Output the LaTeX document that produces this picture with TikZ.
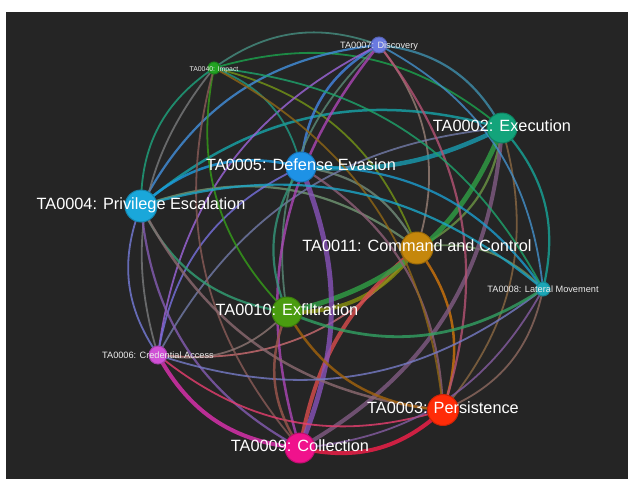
\documentclass[tikz,border=0pt]{standalone}
\usepackage{fontspec}
\setmainfont{Liberation Sans}
\definecolor{cDI}{HTML}{6A7AE0}
\definecolor{cIM}{HTML}{22A322}
\definecolor{cEX}{HTML}{13A47B}
\definecolor{cDE}{HTML}{1E92E6}
\definecolor{cPE}{HTML}{1AA7DA}
\definecolor{cCC}{HTML}{C5870C}
\definecolor{cLM}{HTML}{1BA6B6}
\definecolor{cXF}{HTML}{4A9C10}
\definecolor{cCA}{HTML}{D050D6}
\definecolor{cPR}{HTML}{FF2C08}
\definecolor{cCO}{HTML}{F0128C}
\definecolor{bgdark}{HTML}{252525}
\begin{document}
\begin{tikzpicture}[x=1pt,y=-1pt,
  lnk/.style={draw opacity=0.8, line cap=round},
  dot/.style={circle, inner sep=0pt, line width=1pt},
  big/.style={text=white, inner sep=0pt, text depth=0pt, text height=0.716em, font=\fontsize{16.3}{18}\selectfont},
  small/.style={text=white!92!black, inner sep=0pt, text depth=0pt, text height=0.716em, font=\fontsize{9.2}{11}\selectfont},
  tiny/.style={text=white!92!black, inner sep=0pt, text depth=0pt, text height=0.716em, font=\fontsize{6.9}{8}\selectfont}]
\useasboundingbox (0,0) rectangle (628,479);
\fill[white] (0,0) rectangle (628,479);
\fill[bgdark] (6,12) rectangle (628,479);
% node coordinates
\coordinate (di) at (379,45);
\coordinate (im) at (214,68);
\coordinate (ex) at (502,128);
\coordinate (de) at (301,167);
\coordinate (pe) at (141,206);
\coordinate (cc) at (417,248);
\coordinate (lm) at (543,289);
\coordinate (xf) at (287,312);
\coordinate (ca) at (158,355);
\coordinate (pr) at (443,410);
\coordinate (co) at (300,448);
% edges
\draw[lnk, line width=2.2pt, draw=cEX!50!cCC] (ex) to[bend left=28] (cc);
\draw[lnk, line width=1.8pt, draw=cDI!50!cCC] (di) to[bend left=28] (cc);
\draw[lnk, line width=2.2pt, draw=cDE!50!cCC] (de) to[bend left=28] (cc);
\draw[lnk, line width=1.8pt, draw=cIM!50!cCC] (im) to[bend left=28] (cc);
\draw[lnk, line width=2.2pt, draw=cPE!50!cCC] (pe) to[bend left=28] (cc);
\draw[lnk, line width=1.8pt, draw=cCC!50!cCA] (cc) to[bend left=28] (ca);
\draw[lnk, line width=4pt, draw=cCC!50!cXF] (cc) to[bend left=28] (xf);
\draw[lnk, line width=4pt, draw=cCC!50!cCO] (co) to[bend left=20] (cc);
\draw[lnk, line width=2.5pt, draw=cCC!80!cPR] (cc) to[bend left=28] (pr);
\draw[lnk, line width=1.8pt, draw=cCC!50!cLM] (cc) to[bend left=28] (lm);
\draw[lnk, line width=2.2pt, draw=cDI!50!cEX] (di) to[bend left=28] (ex);
\draw[lnk, line width=4.5pt, draw=cDE!50!cEX] (ex) to[bend left=15] (de);
\draw[lnk, line width=1.8pt, draw=cIM!50!cEX] (im) to[bend left=28] (ex);
\draw[lnk, line width=2.5pt, draw=cPE!50!cEX] (pe) to[bend left=28] (ex);
\draw[lnk, line width=1.8pt, draw=cCA!50!cEX] (ca) to[bend left=28] (ex);
\draw[lnk, line width=5pt, draw=cEX!50!cXF] (ex) to[bend left=28] (xf);
\draw[lnk, line width=4pt, draw=cEX!50!cCO] (ex) to[bend left=28] (co);
\draw[lnk, line width=1.8pt, draw=cEX!50!cPR] (ex) to[bend left=28] (pr);
\draw[lnk, line width=2.2pt, draw=cEX!50!cLM] (ex) to[bend left=28] (lm);
\draw[lnk, line width=2.5pt, draw=cDE!50!cDI] (de) to[bend left=28] (di);
\draw[lnk, line width=1.8pt, draw=cIM!50!cDI] (im) to[bend left=28] (di);
\draw[lnk, line width=2.2pt, draw=cPE!50!cDI] (pe) to[bend left=28] (di);
\draw[lnk, line width=1.8pt, draw=cCA!50!cDI] (ca) to[bend left=28] (di);
\draw[lnk, line width=1.8pt, draw=cXF!50!cDI] (xf) to[bend left=28] (di);
\draw[lnk, line width=2.5pt, draw=cCO!50!cDI] (co) to[bend left=28] (di);
\draw[lnk, line width=2.2pt, draw=cDI!50!cPR] (di) to[bend left=28] (pr);
\draw[lnk, line width=1.8pt, draw=cDI!50!cLM] (di) to[bend left=28] (lm);
\draw[lnk, line width=1.8pt, draw=cIM!50!cDE] (im) to[bend left=28] (de);
\draw[lnk, line width=2.5pt, draw=cPE!50!cDE] (pe) to[bend left=28] (de);
\draw[lnk, line width=1.8pt, draw=cCA!50!cDE] (ca) to[bend left=28] (de);
\draw[lnk, line width=2.2pt, draw=cXF!50!cDE] (xf) to[bend left=28] (de);
\draw[lnk, line width=5pt, draw=cCO!50!cDE] (de) to[bend left=22] (co);
\draw[lnk, line width=2.2pt, draw=cDE!50!cPR] (de) to[bend left=28] (pr);
\draw[lnk, line width=2.2pt, draw=cDE!50!cLM] (de) to[bend left=28] (lm);
\draw[lnk, line width=1.8pt, draw=cPE!50!cIM] (pe) to[bend left=28] (im);
\draw[lnk, line width=1.8pt, draw=cCA!50!cIM] (ca) to[bend left=28] (im);
\draw[lnk, line width=1.8pt, draw=cXF!50!cIM] (xf) to[bend left=28] (im);
\draw[lnk, line width=1.8pt, draw=cCO!50!cIM] (co) to[bend left=28] (im);
\draw[lnk, line width=1.8pt, draw=cIM!50!cPR] (im) to[bend left=28] (pr);
\draw[lnk, line width=1.8pt, draw=cIM!50!cLM] (im) to[bend left=28] (lm);
\draw[lnk, line width=1.8pt, draw=cCA!50!cPE] (ca) to[bend left=28] (pe);
\draw[lnk, line width=2.2pt, draw=cXF!50!cPE] (xf) to[bend left=28] (pe);
\draw[lnk, line width=2.2pt, draw=cCO!50!cPE] (co) to[bend left=28] (pe);
\draw[lnk, line width=2.5pt, draw=cPR!50!cPE] (pr) to[bend left=28] (pe);
\draw[lnk, line width=2.2pt, draw=cPE!50!cLM] (pe) to[bend left=28] (lm);
\draw[lnk, line width=1.8pt, draw=cXF!50!cCA] (xf) to[bend left=28] (ca);
\draw[lnk, line width=4pt, draw=cCO!50!cCA] (co) to[bend left=28] (ca);
\draw[lnk, line width=1.8pt, draw=cPR!50!cCA] (pr) to[bend left=28] (ca);
\draw[lnk, line width=1.8pt, draw=cLM!50!cCA] (lm) to[bend left=28] (ca);
\draw[lnk, line width=2.5pt, draw=cCO!50!cXF] (co) to[bend left=28] (xf);
\draw[lnk, line width=2.5pt, draw=cPR!50!cXF] (pr) to[bend left=28] (xf);
\draw[lnk, line width=2.8pt, draw=cLM!50!cXF] (lm) to[bend left=28] (xf);
\draw[lnk, line width=4pt, draw=cPR!50!cCO] (pr) to[bend left=28] (co);
\draw[lnk, line width=1.8pt, draw=cLM!50!cCO] (lm) to[bend left=28] (co);
\draw[lnk, line width=1.8pt, draw=cLM!50!cPR] (lm) to[bend left=28] (pr);
% nodes
\node[dot, fill=cDI, draw=cDI!80!black, minimum size=16pt] (ndi) at (di) {};
\node[dot, fill=cIM, draw=cIM!80!black, minimum size=12pt] (nim) at (im) {};
\node[dot, fill=cEX, draw=cEX!80!black, minimum size=30pt] (nex) at (ex) {};
\node[dot, fill=cDE, draw=cDE!80!black, minimum size=30pt] (nde) at (de) {};
\node[dot, fill=cPE, draw=cPE!80!black, minimum size=32pt] (npe) at (pe) {};
\node[dot, fill=cCC, draw=cCC!80!black, minimum size=32pt] (ncc) at (cc) {};
\node[dot, fill=cLM, draw=cLM!80!black, minimum size=14pt] (nlm) at (lm) {};
\node[dot, fill=cXF, draw=cXF!80!black, minimum size=30pt] (nxf) at (xf) {};
\node[dot, fill=cCA, draw=cCA!80!black, minimum size=18pt] (nca) at (ca) {};
\node[dot, fill=cPR, draw=cPR!80!black, minimum size=31pt] (npr) at (pr) {};
\node[dot, fill=cCO, draw=cCO!80!black, minimum size=30pt] (nco) at (co) {};
% labels
\node[small] (ldi) at (di) {TA0007: Discovery};
\node[tiny] (lim) at (im) {TA0040: Impact};
\node[big] (lex) at (ex) {TA0002: Execution};
\node[big] (lde) at (de) {TA0005: Defense Evasion};
\node[big] (lpe) at (pe) {TA0004: Privilege Escalation};
\node[big] (lcc) at (cc) {TA0011: Command and Control};
\node[small] (llm) at (lm) {TA0008: Lateral Movement};
\node[big] (lxf) at (xf) {TA0010: Exfiltration};
\node[small] (lca) at (ca) {TA0006: Credential Access};
\node[big] (lpr) at (pr) {TA0003: Persistence};
\node[big] (lco) at (co) {TA0009: Collection};
\end{tikzpicture}
\end{document}
